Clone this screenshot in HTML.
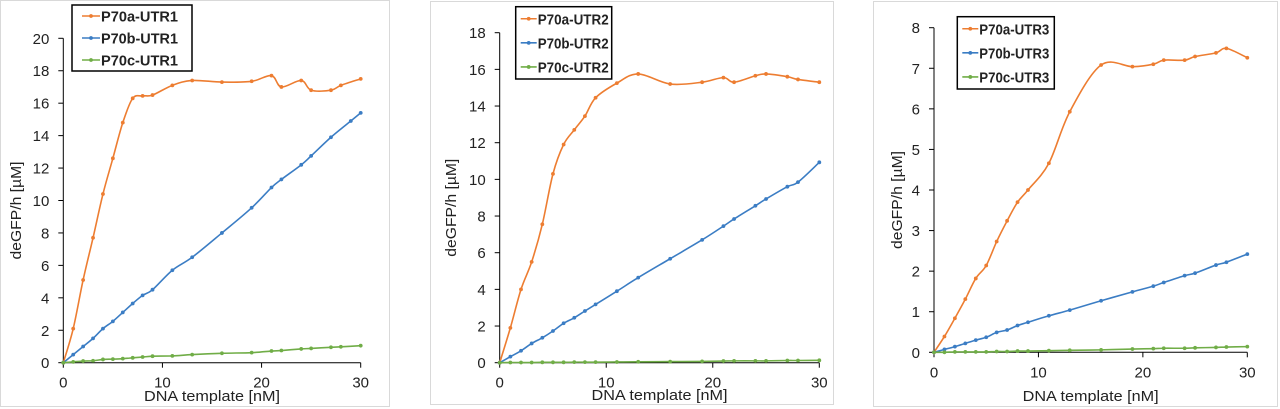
<!DOCTYPE html>
<html><head><meta charset="utf-8"><style>
body{margin:0;background:#fff;width:1280px;height:409px;overflow:hidden}
svg{display:block}
text{font-family:"Liberation Sans",sans-serif;fill:#222}
</style></head><body>
<svg id="c" width="1280" height="409"></svg>
<script>
const xs1=[0,1,2,3,4,5,6,7,8,9,11,13,16,19,21,22,24,25,27,28,30];
const xsB1=[0,1,2,3,4,5,6,7,8,9,11,13,16,19,21,22,24,25,27,29,30];
const a1=[0,2.1,5.1,7.7,10.4,12.6,14.8,16.3,16.45,16.5,17.1,17.4,17.3,17.35,17.7,17.0,17.4,16.8,16.8,17.1,17.5];
const b1=[0,0.5,1.0,1.5,2.1,2.55,3.1,3.65,4.15,4.5,5.7,6.5,8.0,9.55,10.8,11.3,12.2,12.75,13.9,14.9,15.4];
const c1=[0,0.05,0.1,0.12,0.2,0.22,0.25,0.3,0.35,0.4,0.42,0.5,0.58,0.62,0.72,0.75,0.85,0.88,0.95,0.98,1.05];
const xs2=[0,1,2,3,4,5,6,7,8,9,11,13,16,19,21,22,24,25,27,28,30];
const a2=[0,1.9,4.0,5.5,7.55,10.3,11.9,12.7,13.45,14.45,15.25,15.75,15.2,15.3,15.55,15.3,15.65,15.75,15.6,15.45,15.3];
const b2=[0,0.33,0.65,1.05,1.36,1.73,2.15,2.45,2.82,3.18,3.9,4.64,5.67,6.7,7.45,7.84,8.56,8.93,9.6,9.85,10.93];
const c2=[0,0.01,0.01,0.01,0.02,0.02,0.02,0.03,0.03,0.03,0.04,0.05,0.06,0.07,0.09,0.1,0.1,0.1,0.12,0.12,0.13];
const xs3=[0,1,2,3,4,5,6,7,8,9,11,13,16,19,21,22,24,25,27,28,30];
const a3=[0,0.39,0.84,1.31,1.82,2.14,2.73,3.24,3.7,4.0,4.66,5.93,7.08,7.04,7.1,7.2,7.2,7.29,7.38,7.49,7.26];
const b3=[0,0.07,0.14,0.22,0.3,0.37,0.49,0.55,0.66,0.74,0.9,1.04,1.27,1.49,1.63,1.72,1.89,1.95,2.15,2.22,2.42];
const c3=[0,0.0,0.01,0.01,0.01,0.01,0.02,0.02,0.03,0.03,0.04,0.05,0.06,0.08,0.09,0.1,0.1,0.11,0.12,0.13,0.14];
const xTicks=[0,10,20,30];
const yTicks1=[0,2,4,6,8,10,12,14,16,18,20];
const yTicks2=[0,2,4,6,8,10,12,14,16,18];
const yTicks3=[0,1,2,3,4,5,6,7,8];
const NS="http://www.w3.org/2000/svg";
const svg=document.getElementById('c');
function mk(tag,at,parent){const e=document.createElementNS(NS,tag);for(const k in at)e.setAttribute(k,at[k]);(parent||svg).appendChild(e);return e;}
function smooth(p){let d=`M${p[0][0]},${p[0][1]}`;for(let i=0;i<p.length-1;i++){const p0=p[i-1]||p[i],p1=p[i],p2=p[i+1],p3=p[i+2]||p2;const t=6;d+=` C${p1[0]+(p2[0]-p0[0])/t},${p1[1]+(p2[1]-p0[1])/t} ${p2[0]-(p3[0]-p1[0])/t},${p2[1]-(p3[1]-p1[1])/t} ${p2[0]},${p2[1]}`;}return d;}
const cols=['#ED7D31','#3B7DC4','#70AD47'];
function panel(cfg){
 const g=mk('g',{});
 
 
 const fr=mk('rect',{x:cfg.fr[0],y:cfg.fr[1],width:cfg.fr[2],height:cfg.fr[3],fill:'#fff',stroke:'#d9d9d9','stroke-width':1},g);
 
 const X=v=>cfg.x0+(cfg.x1-cfg.x0)*v/30;
 const Y=v=>cfg.y0-(cfg.y0-cfg.y1)*v/cfg.ymax;
 mk('line',{x1:cfg.x0,y1:cfg.y0,x2:cfg.x0,y2:cfg.y1,stroke:'#000','stroke-width':1},g);
 mk('line',{x1:cfg.x0,y1:cfg.y0,x2:cfg.x1,y2:cfg.y0,stroke:'#000','stroke-width':1},g);
 cfg.yt.forEach(v=>{mk('line',{x1:cfg.x0-5,x2:cfg.x0,y1:Y(v),y2:Y(v),stroke:'#000'},g);
  const t=mk('text',{x:cfg.x0-14,y:Y(v)+5.5,'text-anchor':'end','font-size':15},g);t.textContent=v;
  });
 xTicks.forEach(v=>{mk('line',{x1:X(v),x2:X(v),y1:cfg.y0,y2:cfg.y0+5,stroke:'#000'},g);
  const t=mk('text',{x:X(v),y:cfg.y0+25,'text-anchor':'middle','font-size':15},g);t.textContent=v;
  });
 const xt=mk('text',{x:(cfg.x0+cfg.x1)/2,y:cfg.xty,'text-anchor':'middle','font-size':15,textLength:136,lengthAdjust:'spacingAndGlyphs'},g);xt.textContent='DNA template [nM]';
 
 const yt=mk('text',{x:0,y:0,'text-anchor':'middle','font-size':15,textLength:98,lengthAdjust:'spacingAndGlyphs',transform:`translate(${cfg.yty},${(cfg.y0+cfg.y1)/2+10}) rotate(-90)`},g);yt.textContent='deGFP/h [µM]';
 
 cfg.series.forEach((s,i)=>{
  const pts=s.x.map((xv,j)=>[X(xv),Y(s.y[j])]);
  const p=mk('path',{d:smooth(pts),fill:'none',stroke:cols[i],'stroke-width':1.6},g);
  
  pts.forEach(q=>{const c=mk('circle',{cx:q[0],cy:q[1],r:1.9,fill:cols[i]},g);
   });
 });
 const L=cfg.leg, ls=cfg.ls;
 const lg=mk('g',{},g);
 mk('rect',{x:L[0],y:L[1],width:L[2],height:L[3],fill:'#fff',stroke:'#000','stroke-width':1.5},lg);
 const rh=L[3]/3;
 cfg.series.forEach((s,i)=>{const cy=L[1]+rh*(i+0.5);
  mk('line',{x1:L[0]+ls[0],x2:L[0]+ls[1],y1:cy,y2:cy,stroke:cols[i],'stroke-width':1.6},lg);
  mk('circle',{cx:L[0]+(ls[0]+ls[1])/2,cy:cy,r:1.9,fill:cols[i]},lg);
  const t=mk('text',{x:L[0]+ls[1]+1,y:cy+5.5,'font-size':15,'font-weight':'bold',textLength:ls[2],lengthAdjust:'spacingAndGlyphs'},lg);t.textContent=s.label;
  });
}
panel({name:'chart-utr1',fr:[0.5,0.5,389,406],x0:63.3,x1:360.7,y0:362.7,y1:38.3,ymax:20,yt:yTicks1,xty:401,yty:21,leg:[72,5,120,66],ls:[10,28,77],
 series:[{label:'P70a-UTR1',x:xs1,y:a1},{label:'P70b-UTR1',x:xsB1,y:b1},{label:'P70c-UTR1',x:xs1,y:c1}]});
panel({name:'chart-utr2',fr:[430.5,1.5,403,403],x0:499.7,x1:819.3,y0:362.7,y1:32.7,ymax:18,yt:yTicks2,xty:400,yty:456,leg:[515.7,6.7,96,72.3],ls:[5,21,71],
 series:[{label:'P70a-UTR2',x:xs2,y:a2},{label:'P70b-UTR2',x:xs2,y:b2},{label:'P70c-UTR2',x:xs2,y:c2}]});
panel({name:'chart-utr3',fr:[873.5,1.5,404,405],x0:934,x1:1247.3,y0:352.3,y1:27.7,ymax:8,yt:yTicks3,xty:401,yty:902,leg:[957.3,16.7,97,72.3],ls:[5,21,70],
 series:[{label:'P70a-UTR3',x:xs3,y:a3},{label:'P70b-UTR3',x:xs3,y:b3},{label:'P70c-UTR3',x:xs3,y:c3}]});
</script>
</body></html>
